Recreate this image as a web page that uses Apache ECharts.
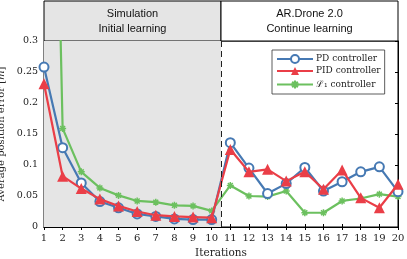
<!DOCTYPE html>
<html><head><meta charset="utf-8">
<script src="https://cdn.jsdelivr.net/npm/echarts@6/dist/echarts.min.js"></script>
<style>html,body{margin:0;padding:0;background:#fff}#c{width:407px;height:259px}</style>
</head><body><div id="c"></div>
<script>
const iterations = [1,2,3,4,5,6,7,8,9,10,11,12,13,14,15,16,17,18,19,20];
const pdValues  = [0.258,0.128,0.071,0.041,0.031,0.021,0.017,0.013,0.012,0.012,0.136,0.095,0.054,0.070,0.096,0.058,0.073,0.089,0.097,0.057];
const pidValues = [0.231,0.082,0.062,0.045,0.034,0.025,0.019,0.017,0.016,0.015,0.125,0.089,0.093,0.074,0.089,0.061,0.092,0.047,0.031,0.069];
const l1Values  = [1.5,0.159,0.089,0.063,0.051,0.042,0.040,0.035,0.034,0.026,0.067,0.050,0.049,0.058,0.023,0.023,0.042,0.046,0.053,0.049];
const yTicks = [0,0.05,0.1,0.15,0.2,0.25,0.3];
const phaseSplit = 10.5;
const phaseLabels = ['Simulation\nInitial learning','AR.Drone 2.0\nContinue learning'];
const seriesNames = ['PD controller','PID controller','ℒ₁ controller'];

const serif = '"DejaVu Serif", "Liberation Serif", serif';
const sans = '"Liberation Sans", Arial, sans-serif';
const cBlue = '#4679b3', cRed = '#ea3e47', cGreen = '#6cc05f';
const pair = (v) => v.map((y,i)=>[iterations[i], y]);
const star = 'path://M0,5L10,5M5,0L5,10M1.5,1.5L8.5,8.5M8.5,1.5L1.5,8.5';

const chart = echarts.init(document.getElementById('c'), null, {renderer:'canvas'});
chart.setOption({
  animation:false,
  backgroundColor:'#fff',
  grid:[
    {left:44, right:9, top:41, bottom:32, show:true, borderColor:'#000', borderWidth:1, outerBoundsMode:'none', containLabel:false},
    {left:44, right:9, top:1, height:40, outerBoundsMode:'none', containLabel:false}
  ],
  xAxis:[
    {gridIndex:0, type:'value', min:1, max:20, interval:1, position:'bottom',
     axisLine:{lineStyle:{color:'#000'}}, axisTick:{inside:true, length:3, lineStyle:{color:'#000'}},
     axisLabel:{color:'#222', fontFamily:serif, fontSize:10, margin:6},
     splitLine:{show:false},
     name:'Iterations', nameLocation:'middle', nameGap:21,
     nameTextStyle:{color:'#222', fontFamily:serif, fontSize:10.5}},
    {gridIndex:0, type:'value', min:1, max:20, interval:1, position:'top',
     axisLine:{lineStyle:{color:'#000'}}, axisTick:{inside:true, length:3, lineStyle:{color:'#000'}},
     axisLabel:{show:false}, splitLine:{show:false}},
    {gridIndex:1, type:'value', min:1, max:20, show:false}
  ],
  yAxis:[
    {gridIndex:0, type:'value', min:0, max:0.3, interval:0.05, position:'left',
     axisLine:{show:true, lineStyle:{color:'#000'}}, axisTick:{show:true, inside:true, length:3, lineStyle:{color:'#000'}},
     axisLabel:{color:'#222', fontFamily:serif, fontSize:9.5, margin:6,
       formatter:(v)=>{const t=yTicks.find(x=>Math.abs(x-v)<1e-9); return t===undefined?'':String(+t.toFixed(2));}},
     splitLine:{show:false},
     name:'{a|Average position error [}{b|m}{a|]}', nameLocation:'middle', nameGap:29,
     nameTextStyle:{rich:{a:{fontFamily:serif, fontSize:10, color:'#222'}, b:{fontFamily:serif, fontSize:10, fontStyle:'italic', color:'#222'}}}},
    {gridIndex:0, type:'value', min:0, max:0.3, interval:0.05, position:'right',
     axisLine:{show:true, lineStyle:{color:'#000'}}, axisTick:{show:true, inside:true, length:3, lineStyle:{color:'#000'}},
     axisLabel:{show:false}, splitLine:{show:false}},
    {gridIndex:1, type:'value', min:0, max:1, show:false}
  ],
  legend:{
    left:272, top:50, orient:'vertical', itemGap:2.5, itemWidth:36, itemHeight:10,
    backgroundColor:'#fff', borderColor:'#333', borderWidth:0.8, borderRadius:0, padding:[4,4,3,4],
    textStyle:{fontFamily:serif, fontSize:9, color:'#222', padding:[0,0,0,-2]},
    data:seriesNames
  },
  series:[
    {type:'line', xAxisIndex:2, yAxisIndex:2, data:[], silent:true,
     markArea:{silent:true, data:[
       [{xAxis:1, yAxis:0, itemStyle:{color:'#e5e5e5', borderColor:'#000', borderWidth:1},
         label:{show:true, position:'inside', formatter:phaseLabels[0], fontFamily:sans, fontSize:11, color:'#111', lineHeight:15}},
        {xAxis:phaseSplit, yAxis:1}],
       [{xAxis:phaseSplit, yAxis:0, itemStyle:{color:'#fff', borderColor:'#000', borderWidth:1},
         label:{show:true, position:'inside', formatter:phaseLabels[1], fontFamily:sans, fontSize:11, color:'#111', lineHeight:15}},
        {xAxis:20, yAxis:1}]
     ]}},
    {type:'line', xAxisIndex:0, yAxisIndex:0, data:[], silent:true,
     markArea:{silent:true, itemStyle:{color:'#e5e5e5'}, data:[[{xAxis:1},{xAxis:phaseSplit}]]},
     markLine:{silent:true, symbol:'none', label:{show:false},
       lineStyle:{color:'#222', type:[6,4], width:1}, data:[{xAxis:phaseSplit}]}},
    {name:seriesNames[0], type:'line', data:pair(pdValues), color:cBlue,
     lineStyle:{width:2.2, color:cBlue}, symbol:'emptyCircle', symbolSize:9,
     itemStyle:{color:cBlue, borderColor:cBlue, borderWidth:2}, z:3},
    {name:seriesNames[1], type:'line', data:pair(pidValues), color:cRed,
     lineStyle:{width:2.2, color:cRed}, symbol:'triangle', symbolSize:11,
     itemStyle:{color:cRed}, z:4},
    {name:seriesNames[2], type:'line', data:pair(l1Values), color:cGreen,
     lineStyle:{width:2.2, color:cGreen}, symbol:star, symbolSize:7,
     itemStyle:{color:'none', borderColor:cGreen, borderWidth:1.5}, z:2}
  ]
});
</script></body></html>
